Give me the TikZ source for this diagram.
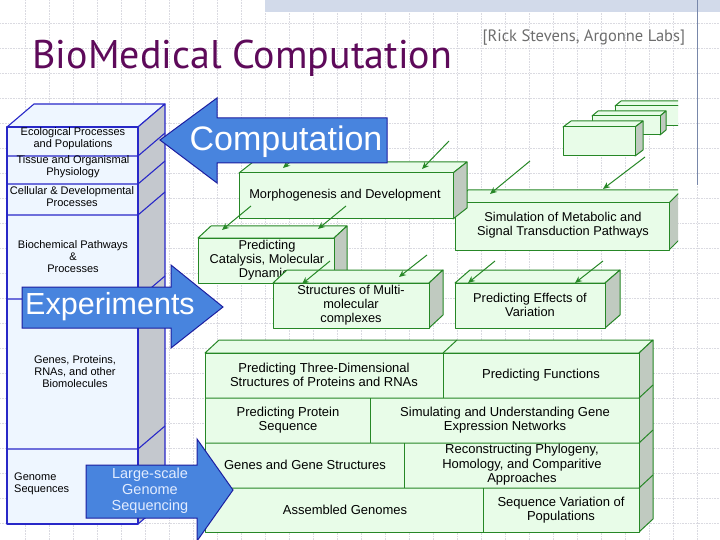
\documentclass[tikz,border=0pt]{standalone}
\usepackage{fontspec}
\setmainfont{Liberation Sans}
\newfontfamily\titlefont{PT Sans}
\usetikzlibrary{arrows.meta}

\definecolor{titlepurple}{RGB}{94,10,90}
\definecolor{creditgray}{RGB}{110,110,110}
\definecolor{gridgray}{RGB}{218,218,225}
\definecolor{bandblue}{RGB}{210,218,234}
\definecolor{edgeblue}{RGB}{120,135,170}
\definecolor{arrowfill}{RGB}{72,132,222}
\definecolor{arrowline}{RGB}{28,30,160}
\definecolor{arrowtext}{RGB}{226,236,255}
\definecolor{colline}{RGB}{40,40,200}
\definecolor{colfill}{RGB}{238,246,255}
\definecolor{colside}{RGB}{196,200,206}
\definecolor{gline}{RGB}{38,135,38}
\definecolor{gfill}{RGB}{232,252,232}
\definecolor{gside}{RGB}{192,202,192}

% box with top and side face: prefix, x1, y1, x2, y2, dx, up
\newcommand{\slab}[7]{%
  \filldraw[#1face] (#2,#3) -- ++(#6,-#7) -- (#4+#6,#3-#7) -- (#4,#3) -- cycle;
  \filldraw[#1side] (#4,#3) -- ++(#6,-#7) -- (#4+#6,#5-#7) -- (#4,#5) -- cycle;
  \filldraw[#1face] (#2,#3) rectangle (#4,#5);
}

\begin{document}
\begin{tikzpicture}[x=1pt,y=-1pt,
  bface/.style={draw=colline,fill=colfill,line width=1.1pt,line join=round},
  bside/.style={draw=colline,fill=colside,line width=1.1pt,line join=round},
  bline/.style={draw=colline,line width=1.1pt},
  gface/.style={draw=gline,fill=gfill,line width=1pt,line join=round},
  gside/.style={draw=gline,fill=gside,line width=1pt,line join=round},
  gsplit/.style={draw=gline,line width=1pt},
  garrow/.style={draw=gline,line width=1pt,-{Stealth[length=7pt,width=6pt]}},
  bigarrow/.style={draw=arrowline,fill=arrowfill,line width=1pt,line join=miter},
  coltext/.style={align=center,font=\fontsize{11}{12}\selectfont,inner sep=0pt},
  boxtext/.style={align=center,font=\fontsize{12.8}{13.8}\selectfont,inner sep=0pt},
  rowtext/.style={align=center,font=\fontsize{13}{14.5}\selectfont,inner sep=0pt}]
\useasboundingbox (0,0) rectangle (720,540);
\fill[white] (0,0) rectangle (720,540);

% slide background
\foreach \gx in {25,49,...,720}
  \draw[gridgray,densely dotted,line width=0.6pt] (\gx,0) -- (\gx,540);
\foreach \gy in {23,48,...,540}
  \draw[gridgray,densely dotted,line width=0.6pt] (0,\gy) -- (720,\gy);
\fill[bandblue] (265,0) rectangle (720,12);
\draw[edgeblue,line width=0.8pt] (697,0) -- (697,185);

\node[font=\titlefont\fontsize{40}{44}\selectfont,text=titlepurple,anchor=west] (title) at (29,58) {BioMedical Computation};
\node[font=\titlefont\fontsize{16.5}{18}\selectfont,text=creditgray,anchor=west] (credit) at (479,38) {[Rick Stevens, Argonne Labs]};

% left column
\slab{b}{7}{127}{138}{524}{27}{23}
\foreach \ry in {156,184,215,299,449}
  \draw[bline] (7,\ry) -- (138,\ry) -- ++(27,-23);
\node[coltext] (eco) at (73,139) {Ecological Processes\\and Populations};
\node[coltext] (tissue) at (73,167) {Tissue and Organismal\\Physiology};
\node[coltext] (cell) at (72,197) {Cellular \& Developmental\\Processes};
\node[coltext] (biochem) at (73,257) {Biochemical Pathways\\\&\\Processes};
\node[coltext] (genes) at (75,372) {Genes, Proteins,\\RNAs, and other\\Biomolecules};
\node[coltext,align=left,anchor=west] (genome) at (14,484) {Genome\\Sequences};

% green arrows
\coordinate (s1) at (311,144);  \coordinate (e1) at (283,168);
\coordinate (s2) at (449,141);  \coordinate (e2) at (422,169);
\coordinate (s3) at (251,206);  \coordinate (e3) at (222,230);
\coordinate (s4) at (346,206);  \coordinate (e4) at (318,229);
\coordinate (s5) at (330,261);  \coordinate (e5) at (302,284);
\coordinate (s6) at (427,255);  \coordinate (e6) at (399,277);
\coordinate (s7) at (530,161);  \coordinate (e7) at (490,194);
\coordinate (s8) at (645,157);  \coordinate (e8) at (603,189);
\coordinate (s9) at (495,261);  \coordinate (e9) at (468,283);
\coordinate (s10) at (603,261); \coordinate (e10) at (575,283);

\begin{scope}
\clip (0,0) rectangle (678,540);
% stack of model boxes
\slab{g}{615}{106}{684}{126}{6}{5}
\slab{g}{592}{116}{660}{135}{6}{5}
\slab{g}{563}{127}{635}{156}{8}{6}
\slab{g}{455}{203}{669}{250}{13}{13}
\node[boxtext] (simul) at (563,225) {Simulation of Metabolic and\\Signal Transduction Pathways};
\end{scope}

\slab{g}{239}{173}{453}{219}{14}{11}
\node[boxtext] (morpho) at (345,195) {Morphogenesis and Development};
\slab{g}{198}{238}{334}{283}{13}{12}
\node[boxtext,anchor=north] (catal) at (267,240) {Predicting\\Catalysis, Molecular\\Dynamics};
\slab{g}{273}{283}{429}{328}{14}{13}
\node[boxtext] (multi) at (351,305) {Structures of Multi-\\molecular\\complexes};
\slab{g}{455}{283}{605}{328}{15}{13}
\node[boxtext] (effects) at (530,305) {Predicting Effects of\\Variation};

\foreach \i in {1,...,10}
  \draw[garrow] (s\i) -- (e\i);

% layered block
\slab{g}{205}{353}{639}{532}{14}{13}
\foreach \ry in {398,443,488}
  \draw[gsplit] (205,\ry) -- (639,\ry) -- ++(14,-13);
\draw[gsplit] (443,353) -- ++(14,-13);
\draw[gsplit] (443,353) -- (443,398);
\draw[gsplit] (370,398) -- (370,443);
\draw[gsplit] (404,443) -- (404,488);
\draw[gsplit] (483,488) -- (483,532);
\node[rowtext] (threed) at (324,375) {Predicting Three-Dimensional\\Structures of Proteins and RNAs};
\node[rowtext] (func) at (541,375) {Predicting Functions};
\node[rowtext] (protseq) at (288,420) {Predicting Protein\\Sequence};
\node[rowtext] (network) at (505,420) {Simulating and Understanding Gene\\Expression Networks};
\node[rowtext] (genestr) at (305,465) {Genes and Gene Structures};
\node[rowtext] (phylo) at (522,465) {Reconstructing Phylogeny,\\Homology, and Comparitive\\Approaches};
\node[rowtext] (assembled) at (345,510) {Assembled Genomes};
\node[rowtext] (seqvar) at (561,510) {Sequence Variation of\\Populations};

% big arrows
\filldraw[bigarrow] (387,118) -- (217,118) -- (217,98) -- (160,140) -- (217,183) -- (217,163) -- (387,163) -- cycle;
\node[text=white,font=\fontsize{34}{36}\selectfont] (comp) at (286,142) {Computation};
\filldraw[bigarrow] (22,287) -- (171,287) -- (171,265) -- (223,307) -- (171,348) -- (171,328) -- (22,328) -- cycle;
\node[text=white,font=\fontsize{30.5}{32}\selectfont] (exper) at (110,307) {Experiments};
\filldraw[bigarrow] (86,465) -- (197,465) -- (197,439) -- (233,490) -- (197,541) -- (197,518) -- (86,518) -- cycle;
\node[text=arrowtext,align=center,font=\fontsize{14.5}{16}\selectfont] (largescale) at (150,491) {Large-scale\\Genome\\Sequencing};
\end{tikzpicture}
\end{document}
